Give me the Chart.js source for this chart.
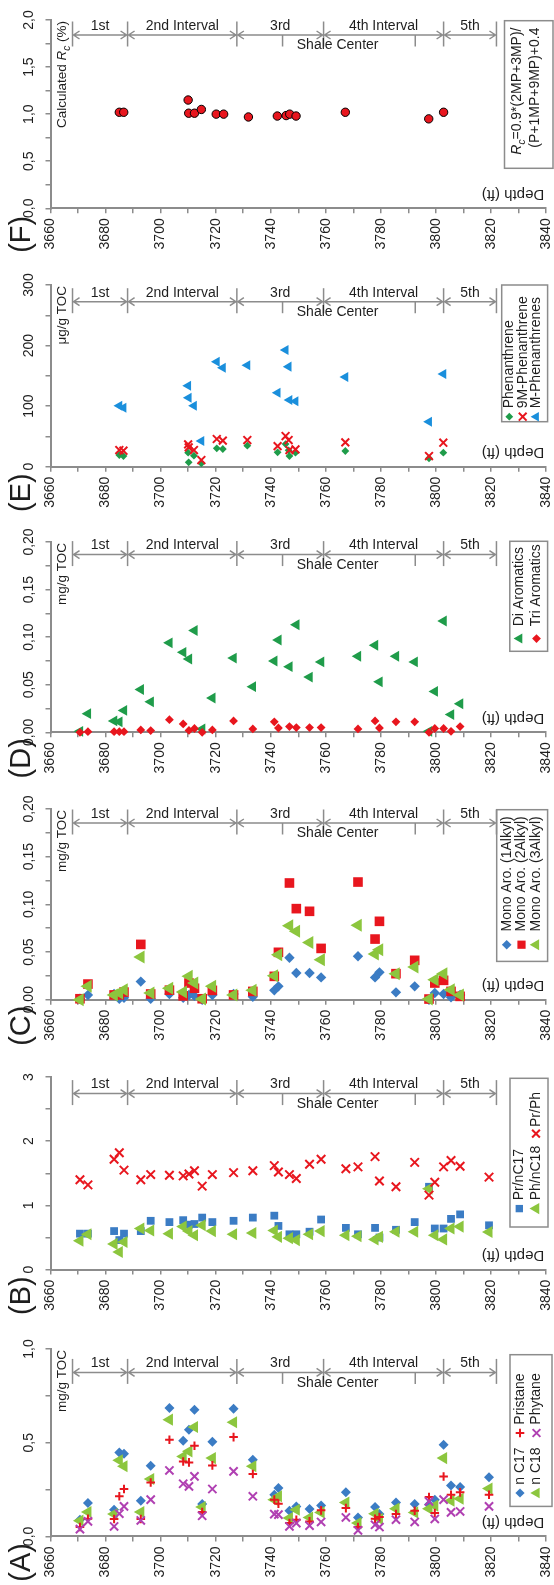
<!DOCTYPE html>
<html><head><meta charset="utf-8">
<script src="https://cdn.jsdelivr.net/npm/chart.js@4.4.1/dist/chart.umd.min.js"></script>
<style>
html,body{margin:0;padding:0;background:#fff;}
body{width:554px;height:1585px;position:relative;overflow:hidden;}
canvas{position:absolute;left:0;}
</style></head>
<body>
<script>
// ---------- data ----------
const depthTicks = [3660,3680,3700,3720,3740,3760,3780,3800,3820,3840];
const intervalBounds = [3668, 3688, 3727.7, 3759.2, 3802.8, 3822];
const intervalNames = ['1st','2nd Interval','3rd','4th Interval','5th'];
const shaleCenter = [3744.3, 3792.5];

const depthAB = [3670.7,3673.6,3683.1,3685.0,3686.7,3692.8,3696.4,3703.2,3708.2,3710.3,3712.3,3715.1,3718.8,3726.5,3733.5,3741.3,3742.8,3746.8,3749.3,3754.1,3758.3,3767.3,3771.7,3777.9,3779.5,3785.5,3792.3,3797.5,3799.6,3802.8,3805.5,3808.8,3819.3];
const nC17 = [0.089,0.178,0.142,0.448,0.441,0.19,0.377,0.685,0.511,0.569,0.676,0.173,0.505,0.681,0.409,0.222,0.258,0.137,0.16,0.146,0.165,0.235,0.101,0.157,0.119,0.181,0.173,0.17,0.196,0.489,0.272,0.263,0.315];
const nC18 = [0.084,0.13,0.119,0.406,0.374,0.13,0.306,0.623,0.427,0.454,0.584,0.157,0.418,0.609,0.374,0.196,0.214,0.098,0.142,0.101,0.128,0.181,0.071,0.121,0.093,0.148,0.128,0.148,0.164,0.418,0.19,0.201,0.255];
const pristane = [0.05,0.094,0.093,0.214,0.253,0.093,0.288,0.516,0.40,0.395,0.484,0.13,0.379,0.53,0.333,0.196,0.174,0.071,0.089,0.08,0.139,0.151,0.05,0.094,0.103,0.119,0.137,0.21,0.125,0.32,0.222,0.235,0.222];
const phytane = [0.039,0.08,0.053,0.121,0.16,0.085,0.196,0.352,0.281,0.267,0.32,0.11,0.253,0.347,0.214,0.119,0.116,0.053,0.071,0.057,0.077,0.101,0.032,0.062,0.05,0.089,0.077,0.187,0.093,0.196,0.128,0.133,0.16];

const prNC17 = [0.56,0.56,0.60,0.46,0.56,0.60,0.76,0.74,0.77,0.70,0.71,0.81,0.74,0.76,0.81,0.84,0.68,0.55,0.55,0.59,0.78,0.65,0.55,0.65,0.50,0.62,0.74,1.29,0.64,0.64,0.79,0.86,0.69];
const phNC18 = [0.45,0.55,0.40,0.275,0.43,0.64,0.61,0.56,0.67,0.60,0.535,0.69,0.60,0.55,0.57,0.61,0.51,0.49,0.46,0.55,0.60,0.535,0.52,0.47,0.51,0.59,0.59,1.26,0.535,0.47,0.64,0.67,0.585];
const prPh = [1.40,1.32,1.72,1.82,1.55,1.40,1.48,1.47,1.46,1.49,1.54,1.30,1.48,1.51,1.54,1.62,1.52,1.48,1.42,1.64,1.72,1.57,1.60,1.76,1.38,1.29,1.67,1.16,1.36,1.60,1.70,1.61,1.44];

const depthCD = [3670.7,3673.6,3683.1,3685.0,3686.7,3692.8,3696.4,3703.2,3708.2,3710.3,3712.3,3715.1,3718.8,3726.5,3733.5,3741.3,3742.8,3746.8,3749.3,3754.1,3758.3,3771.7,3777.9,3779.5,3785.5,3792.3,3797.5,3799.6,3802.8,3805.5,3808.8];
const mono1 = [0.001,0.005,0.006,0.001,0.002,0.019,0.001,0.006,0.002,0.005,0.004,0.0,0.005,0.006,0.003,0.0098,0.014,0.044,0.028,0.028,0.0234,0.0455,0.0234,0.0287,0.0077,0.014,0.0,0.007,0.006,0.0025,0.005];
const mono2 = [0.001,0.0164,0.005,0.005,0.008,0.058,0.006,0.010,0.004,0.0175,0.012,0.001,0.0098,0.005,0.0087,0.0245,0.0497,0.1224,0.0955,0.0927,0.0538,0.1234,0.0636,0.0822,0.0273,0.0413,0.0007,0.0175,0.0203,0.0087,0.0035];
const mono3 = [0.0,0.014,0.005,0.007,0.0105,0.0448,0.007,0.012,0.008,0.0245,0.0175,0.0007,0.014,0.005,0.0098,0.0252,0.0472,0.0776,0.0717,0.060,0.042,0.078,0.048,0.0524,0.0273,0.0343,0.0007,0.021,0.0273,0.0105,0.005];
const diArom = [0.001,0.0196,0.012,0.011,0.023,0.045,0.032,0.094,0.084,0.077,0.107,0.0035,0.036,0.078,0.048,0.075,0.097,0.069,0.113,0.058,0.074,0.080,0.0915,0.053,0.080,0.074,0.001,0.043,0.117,0.0186,0.030];
const triArom = [0.0,0.0007,0.0007,0.0007,0.0007,0.0025,0.0018,0.0133,0.0088,0.002,0.004,0.0,0.0025,0.012,0.0035,0.011,0.0045,0.006,0.005,0.005,0.005,0.0035,0.012,0.0045,0.011,0.011,0.0,0.004,0.004,0.001,0.006];

const depthE = [3685.0,3686.5,3710.0,3710.2,3712.1,3714.8,3720.4,3722.6,3731.5,3742.5,3745.4,3746.5,3746.8,3749.0,3767.1,3797.5,3802.7];
const phen = [19.3,17.6,23.1,7.2,18.2,5.5,30.3,29.2,34.7,23.7,37.4,27,17.6,23.1,25.9,13.8,23.1];
const phen9M = [27.5,26.4,36.9,32,27.5,11,45.7,43,44,34,50.6,44,27.5,28.6,40.2,17.6,39.6];
const phenM = [100.7,97.4,133.8,114,100.7,42.4,173.4,163.5,167.4,122.2,192.7,165.2,110,107.9,148.1,74.3,153];

const depthF = [3685.0,3686.6,3710.0,3710.2,3712.3,3714.8,3720.2,3722.9,3731.9,3742.4,3745.6,3746.9,3749.2,3767.1,3797.4,3802.8];
const rc = [1.02,1.02,1.15,1.01,1.01,1.05,1.00,1.00,0.97,0.98,0.985,1.0,0.98,1.02,0.95,1.02];

const yTicksF = [0,0.5,1,1.5,2],        yLabelsF = ['0,0','0,5','1,0','1,5','2,0'];
const yTicksE = [0,100,200,300],        yLabelsE = ['0','100','200','300'];
const yTicksD = [0,0.05,0.1,0.15,0.2],  yLabelsD = ['0,00','0,05','0,10','0,15','0,20'];
const yTicksC = [0,0.05,0.1,0.15,0.2],  yLabelsC = ['0,00','0,05','0,10','0,15','0,20'];
const yTicksB = [0,1,2,3],              yLabelsB = ['0','1','2','3'];
const yTicksA = [0,0.5,1],              yLabelsA = ['0,0','0,5','1,0'];

// ---------- styling ----------
const FONT = "'Liberation Sans', Arial, Helvetica, sans-serif";
const GRAY = '#8c8c8c';
const TXT = '#1e1e1e';
const C_BLUE = '#3b7cc4', C_LIME = '#8cc63e', C_RED = '#e8161e', C_MAG = '#b040b2',
      C_DGREEN = '#1f9c4a', C_LBLUE = '#1a8fdc';

const MK = {
  diamond: (c,r)=>({style:'rectRot', color:c, r}),
  square: (c,r)=>({style:'rect', color:c, r}),
  triL: (c,r)=>({style:'triangle', rot:-90, color:c, r}),
  xMark: (c,r)=>({style:'crossRot', color:c, r}),
  plus: (c,r)=>({style:'cross', color:c, r}),
  circle: (c,r)=>({style:'circle', color:c, r, border:'#000'})
};

function ds(depths, vals, m){
  const pts = [];
  depths.forEach((d,i)=>{ if (vals[i] !== null && vals[i] !== undefined) pts.push({x:d, y:vals[i]}); });
  const line = (m.style==='crossRot' || m.style==='cross');
  return {
    data: pts, showLine:false, clip:false,
    pointStyle: m.style, pointRadius: m.r, pointRotation: m.rot || 0,
    pointBackgroundColor: m.color,
    pointBorderColor: line ? m.color : (m.border || m.color),
    pointBorderWidth: line ? 2 : (m.border ? 1 : 0)
  };
}

const panels = [
 { key:'F', letter:'(F)', top:20, bottom:208.3, yMax:2, yTicks:yTicksF, yLabels:yLabelsF, minor:0.25, arrowRel:15,
   unit:[{t:'Calculated '},{t:'R',it:1},{t:'c',it:1,sub:1},{t:' (%)'}],
   series:[[depthF, rc, MK.circle(C_RED,4.2)]],
   box:{x1:504.5,x2:553,y1:0.7,y2:148.3},
   textLines:[{x:517.6, rel:7.5, runs:[{t:'R',it:1},{t:'c',it:1,sub:1},{t:'=0.9*(2MP+3MP)/'}]},
              {x:535.3, rel:7.5, runs:[{t:'(P+1MP+9MP)+0.4'}]}],
   items:[] },
 { key:'E', letter:'(E)', top:285, bottom:466.7, yMax:300, yTicks:yTicksE, yLabels:yLabelsE, minor:50, arrowRel:16.7,
   unit:[{t:'\u03bcg/g TOC'}],
   series:[[depthE, phen, MK.diamond(C_DGREEN,3.9)],[depthE, phen9M, MK.xMark(C_RED,5.5)],[depthE, phenM, MK.triL(C_LBLUE,5.8)]],
   box:{x1:501.7,x2:547.6,y1:0,y2:136.7},
   items:[{x:509.3, mr:131.7, t:123.3, text:'Phenanthrene', mk:MK.diamond(C_DGREEN,3.9)},
          {x:522.7, mr:131.7, t:123.3, text:'9M-Phenanthrene', mk:MK.xMark(C_RED,5.5)},
          {x:536.1, mr:131.7, t:123.3, text:'M-Phenanthrenes', mk:MK.triL(C_LBLUE,5.5)}] },
 { key:'D', letter:'(D)', top:542.4, bottom:732.7, yMax:0.2, yTicks:yTicksD, yLabels:yLabelsD, minor:0.025, arrowRel:12.6,
   unit:[{t:'mg/g TOC'}],
   series:[[depthCD, diArom, MK.triL(C_DGREEN,6.3)],[depthCD, triArom, MK.diamond(C_RED,4.4)]],
   box:{x1:509.8,x2:547.6,y1:-0.7,y2:109.3},
   items:[{x:519.4, mr:96.6, t:84.3, text:'Di Aromatics', mk:MK.triL(C_DGREEN,5.8)},
          {x:536.5, mr:96.6, t:84.3, text:'Tri Aromatics', mk:MK.diamond(C_RED,4.4)}] },
 { key:'C', letter:'(C)', top:809.3, bottom:1000, yMax:0.2, yTicks:yTicksC, yLabels:yLabelsC, minor:0.025, arrowRel:14,
   unit:[{t:'mg/g TOC'}],
   series:[[depthCD, mono1, MK.diamond(C_BLUE,5.2)],[depthCD, mono2, MK.square(C_RED,6.8)],[depthCD, mono3, MK.triL(C_LIME,7.5)]],
   box:{x1:496.7,x2:547.6,y1:0.7,y2:152.4},
   items:[{x:506.7, mr:135.7, t:122.4, text:'Mono Aro. (1Alkyl)', mk:MK.diamond(C_BLUE,4.8)},
          {x:521.5, mr:135.7, t:122.4, text:'Mono Aro. (2Alkyl)', mk:MK.square(C_RED,5.8)},
          {x:536, mr:135.7, t:122.4, text:'Mono Aro. (3Alkyl)', mk:MK.triL(C_LIME,6.3)}] },
 { key:'B', letter:'(B)', top:1076.7, bottom:1269.3, yMax:3, yTicks:yTicksB, yLabels:yLabelsB, minor:0.5, arrowRel:16.6,
   unit:null,
   series:[[depthAB, prNC17, MK.square(C_BLUE,5.5)],[depthAB, phNC18, MK.triL(C_LIME,7)],[depthAB, prPh, MK.xMark(C_RED,6)]],
   box:{x1:510,x2:548,y1:1.3,y2:150},
   items:[{x:519.3, mr:131.6, t:123.3, text:'Pr/nC17', mk:MK.square(C_BLUE,5.2)},
          {x:536, mr:131.6, t:123.3, text:'Ph/nC18', mk:MK.triL(C_LIME,6.5)},
          {x:536, mr:56.6, t:50, text:'Pr/Ph', mk:MK.xMark(C_RED,5.5)}] },
 { key:'A', letter:'(A)', top:1349.3, bottom:1536.7, yMax:1, yTicks:yTicksA, yLabels:yLabelsA, minor:0.25, arrowRel:23.4,
   unit:[{t:'mg/g TOC'}],
   series:[[depthAB, nC17, MK.diamond(C_BLUE,5)],[depthAB, nC18, MK.triL(C_LIME,7)],[depthAB, pristane, MK.plus(C_RED,4.3)],[depthAB, phytane, MK.xMark(C_MAG,5.8)]],
   box:{x1:510,x2:552,y1:5.7,y2:157.4},
   items:[{x:520, mr:144, t:135.7, text:'n C17', mk:MK.diamond(C_BLUE,4.6)},
          {x:536.5, mr:144, t:135.7, text:'n C18', mk:MK.triL(C_LIME,6.2)},
          {x:520, mr:84, t:75.7, text:'Pristane', mk:MK.plus(C_RED,4.3)},
          {x:536.5, mr:84, t:75.7, text:'Phytane', mk:MK.xMark(C_MAG,5.5)}] }
];

// ---------- drawing helpers ----------
function rotText(ctx, text, x, y, ang, align, font){
  ctx.save(); ctx.translate(x,y); ctx.rotate(ang);
  ctx.font = font; ctx.fillStyle = TXT; ctx.textAlign = align; ctx.textBaseline = 'middle';
  ctx.fillText(text, 0, 0); ctx.restore();
}
function runFont(r, size){ return (r.it ? 'italic ' : '') + (r.sub ? Math.round(size*0.72) : size) + 'px ' + FONT; }
function drawRuns(ctx, runs, x, y, ang, align, size){
  ctx.save(); ctx.translate(x,y); ctx.rotate(ang);
  ctx.fillStyle = TXT; ctx.textBaseline = 'middle'; ctx.textAlign = 'left';
  let total = 0;
  runs.forEach(r=>{ ctx.font = runFont(r,size); total += ctx.measureText(r.t).width; });
  let cx = align==='right' ? -total : (align==='center' ? -total/2 : 0);
  runs.forEach(r=>{ ctx.font = runFont(r,size); ctx.fillText(r.t, cx, r.sub ? size*0.3 : 0); cx += ctx.measureText(r.t).width; });
  ctx.restore();
}
function drawMarker(ctx, m, x, y){
  const r = m.r;
  ctx.save(); ctx.fillStyle = m.color; ctx.strokeStyle = m.color; ctx.lineWidth = 2;
  ctx.beginPath();
  if (m.style==='rectRot'){ ctx.moveTo(x,y-r); ctx.lineTo(x+r,y); ctx.lineTo(x,y+r); ctx.lineTo(x-r,y); ctx.closePath(); ctx.fill(); }
  else if (m.style==='rect'){ const s=r*Math.SQRT1_2; ctx.fillRect(x-s,y-s,2*s,2*s); }
  else if (m.style==='triangle'){ ctx.moveTo(x-r,y); ctx.lineTo(x+r/2,y-r*0.866); ctx.lineTo(x+r/2,y+r*0.866); ctx.closePath(); ctx.fill(); }
  else if (m.style==='crossRot'){ const s=r*Math.SQRT1_2; ctx.moveTo(x-s,y-s); ctx.lineTo(x+s,y+s); ctx.moveTo(x+s,y-s); ctx.lineTo(x-s,y+s); ctx.stroke(); }
  else if (m.style==='cross'){ ctx.moveTo(x,y-r); ctx.lineTo(x,y+r); ctx.moveTo(x-r,y); ctx.lineTo(x+r,y); ctx.stroke(); }
  ctx.restore();
}

function decor(p){
  return { id:'decor'+p.key, afterDraw(chart){
    const ctx = chart.ctx, a = chart.chartArea, xs = chart.scales.x, ys = chart.scales.y;
    const UP = -Math.PI/2;
    ctx.save();
    p.yTicks.forEach((v,i)=> rotText(ctx, p.yLabels[i], 29, ys.getPixelForValue(v), UP, 'center', '14px '+FONT));
    depthTicks.forEach(v=> rotText(ctx, String(v), xs.getPixelForValue(v), a.bottom+10, UP, 'right', '14px '+FONT));
    rotText(ctx, p.letter, 22, a.bottom+26, UP, 'center', '29px '+FONT);
    if (p.unit) drawRuns(ctx, p.unit, 62.7, a.top+1, UP, 'right', 13.5);
    rotText(ctx, 'Depth (ft)', 513, a.bottom-14.5, Math.PI, 'center', '15px '+FONT);
    // interval annotation
    const ay = a.top + p.arrowRel;
    ctx.strokeStyle = GRAY; ctx.lineWidth = 1.5;
    const bx = intervalBounds.map(v=>xs.getPixelForValue(v));
    bx.forEach(x=>{ ctx.beginPath(); ctx.moveTo(x, ay-13.5); ctx.lineTo(x, ay+11.5); ctx.stroke(); });
    ctx.font = '14px '+FONT; ctx.fillStyle = TXT; ctx.textAlign='center'; ctx.textBaseline='middle';
    for (let i=0;i<bx.length-1;i++){
      const x1 = bx[i]+1, x2 = bx[i+1]-1;
      ctx.beginPath(); ctx.moveTo(x1,ay); ctx.lineTo(x2,ay);
      ctx.moveTo(x1+6,ay-4); ctx.lineTo(x1,ay); ctx.lineTo(x1+6,ay+4);
      ctx.moveTo(x2-6,ay-4); ctx.lineTo(x2,ay); ctx.lineTo(x2-6,ay+4);
      ctx.stroke();
      const mid = xs.getPixelForValue((intervalBounds[i]+intervalBounds[i+1])/2);
      ctx.fillText(intervalNames[i], mid, ay-9);
    }
    shaleCenter.forEach(v=>{ const x = xs.getPixelForValue(v); ctx.beginPath(); ctx.moveTo(x,ay); ctx.lineTo(x,ay+11.5); ctx.stroke(); });
    ctx.fillText('Shale Center', xs.getPixelForValue(3764.3), ay+10.5);
    // legend
    const b = p.box;
    ctx.strokeStyle = GRAY; ctx.lineWidth = 1.5;
    ctx.strokeRect(b.x1, a.top+b.y1, b.x2-b.x1, b.y2-b.y1);
    if (p.textLines) p.textLines.forEach(l=> drawRuns(ctx, l.runs, l.x, a.top+l.rel, UP, 'right', 14));
    p.items.forEach(it=>{
      drawMarker(ctx, it.mk, it.x, a.top+it.mr);
      rotText(ctx, it.text, it.x, a.top+it.t, UP, 'left', '14px '+FONT);
    });
    ctx.restore();
  }};
}

function makeChart(p){
  const plotH = p.bottom - p.top;
  const H = Math.ceil(plotH + 21 + 64);
  const cv = document.createElement('canvas');
  cv.width = 554; cv.height = H;
  cv.style.top = (p.top - 21) + 'px';
  cv.style.width = '554px'; cv.style.height = H + 'px';
  document.body.appendChild(cv);
  const n = p.series.length;
  const datasets = p.series.map((s,i)=>{ const d = ds(s[0], s[1], s[2]); d.order = n - i; return d; });
  const xTickVals = []; for (let v = depthTicks[0]; v <= depthTicks[depthTicks.length-1]+0.001; v += 10) xTickVals.push(v);
  const yTickVals = []; const nMinor = Math.round(p.yMax / p.minor); for (let k=0;k<=nMinor;k++) yTickVals.push(k*p.minor);
  const gridOpt = {display:true, drawOnChartArea:false, drawTicks:true, tickLength:5, color:GRAY, lineWidth:1.5};
  const borderOpt = {display:true, color:GRAY, width:2};
  new Chart(cv, {
    type:'scatter',
    data:{datasets},
    options:{
      responsive:false, maintainAspectRatio:false, animation:false, events:[],
      layout:{padding:{left:45.5, right:8, top:21, bottom:H - 21 - plotH - 5}},
      plugins:{legend:{display:false}, tooltip:{enabled:false}},
      scales:{
        x:{type:'linear', min:3660, max:3840, position:'bottom',
           afterFit:s=>{s.height=5;}, afterBuildTicks:s=>{s.ticks = xTickVals.map(v=>({value:v}));},
           ticks:{display:false}, grid:gridOpt, border:borderOpt},
        y:{type:'linear', min:0, max:p.yMax, position:'left',
           afterFit:s=>{s.width=5;}, afterBuildTicks:s=>{s.ticks = yTickVals.map(v=>({value:v}));},
           ticks:{display:false}, grid:gridOpt, border:borderOpt}
      }
    },
    plugins:[decor(p)]
  });
}
panels.forEach(makeChart);
</script>
</body></html>
